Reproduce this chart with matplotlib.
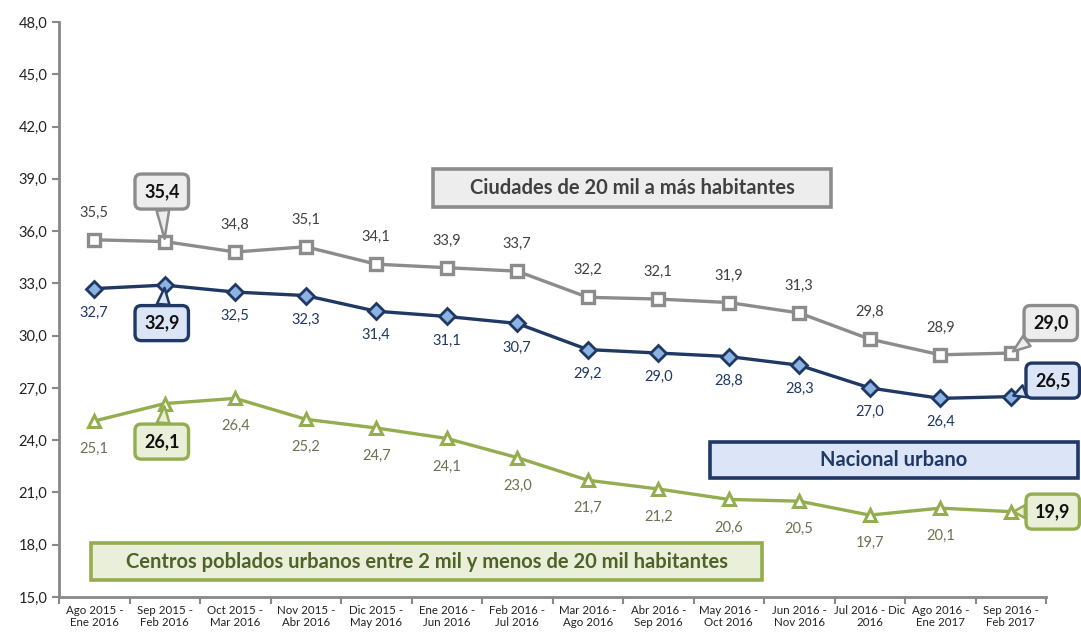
import matplotlib.pyplot as plt
from matplotlib.patches import Rectangle
import numpy as np

plt.rcParams['font.family'] = ['Lato', 'DejaVu Sans']

# ── data ────────────────────────────────────────────
periodos = ['Ago 2015 -\nEne 2016', 'Sep 2015 -\nFeb 2016', 'Oct 2015 -\nMar 2016',
            'Nov 2015 -\nAbr 2016', 'Dic 2015 -\nMay 2016', 'Ene 2016 -\nJun 2016',
            'Feb 2016 -\nJul 2016', 'Mar 2016 -\nAgo 2016', 'Abr 2016 -\nSep 2016',
            'May 2016 -\nOct 2016', 'Jun 2016 -\nNov 2016', 'Jul 2016 - Dic\n2016',
            'Ago 2016 -\nEne 2017', 'Sep 2016 -\nFeb 2017']
ciudades = [35.5, 35.4, 34.8, 35.1, 34.1, 33.9, 33.7, 32.2, 32.1, 31.9, 31.3, 29.8, 28.9, 29.0]
nacional = [32.7, 32.9, 32.5, 32.3, 31.4, 31.1, 30.7, 29.2, 29.0, 28.8, 28.3, 27.0, 26.4, 26.5]
centros = [25.1, 26.1, 26.4, 25.2, 24.7, 24.1, 23.0, 21.7, 21.2, 20.6, 20.5, 19.7, 20.1, 19.9]
y_ticks = [15, 18, 21, 24, 27, 30, 33, 36, 39, 42, 45, 48]

GRAY, GRAY_FILL = '#8c8c8c', '#ededed'
NAVY, BLUE_FILL, BLUE_MK = '#1f3864', '#dbe5f7', '#8db3e2'
GREEN, GREEN_FILL = '#93ad4f', '#eaefd9'

W, H = 1081, 634

def fmt(v):
    return f'{v:.1f}'.replace('.', ',')

fig = plt.figure(figsize=(W / 100, H / 100), dpi=100)
ax = fig.add_axes([59 / W, 1 - 597 / H, 987 / W, 575 / H])
x = np.arange(len(periodos))

ax.plot(x, ciudades, color=GRAY, lw=2.4, marker='s', ms=8, mfc='white', mec=GRAY, mew=2.4, zorder=3)
ax.plot(x, nacional, color=NAVY, lw=2.4, marker='D', ms=8, mfc=BLUE_MK, mec=NAVY, mew=2, zorder=3)
ax.plot(x, centros, color=GREEN, lw=2.4, marker='^', ms=8.5, mfc='white', mec=GREEN, mew=2.2, zorder=3)

# plain value labels (index 1 and the last one go in callouts)
for i in x:
    if i in (1, len(x) - 1):
        continue
    ax.annotate(fmt(ciudades[i]), (i, ciudades[i]), xytext=(0, 27), textcoords='offset pixels',
                ha='center', va='center', fontsize=10.5, color='#404040')
    ax.annotate(fmt(nacional[i]), (i, nacional[i]), xytext=(0, -24), textcoords='offset pixels',
                ha='center', va='center', fontsize=10.5, color=NAVY)
    ax.annotate(fmt(centros[i]), (i, centros[i]), xytext=(0, -28), textcoords='offset pixels',
                ha='center', va='center', fontsize=10.5, color='#6f6f55')

# callouts
def callout(i, val, dx, dy, edge, fill):
    ax.annotate(fmt(val), (i, val), xytext=(dx, dy), textcoords='offset pixels',
                ha='center', va='center', fontsize=13, fontweight='bold', color='#111111',
                bbox=dict(boxstyle='round,pad=0.5,rounding_size=0.35', fc=fill, ec=edge, lw=2.4),
                arrowprops=dict(arrowstyle='wedge,tail_width=0.7,shrink_factor=0.5',
                                fc=fill, ec=edge, lw=1.8, shrinkA=0, shrinkB=2),
                zorder=5)

last = len(x) - 1
callout(1, ciudades[1], -3, 50, GRAY, GRAY_FILL)
callout(1, nacional[1], -3, -38, NAVY, BLUE_FILL)
callout(1, centros[1], -3, -38, GREEN, GREEN_FILL)
callout(last, ciudades[last], 40, 30, GRAY, GRAY_FILL)
callout(last, nacional[last], 42, 16, NAVY, BLUE_FILL)
callout(last, centros[last], 42, 0, GREEN, GREEN_FILL)

# series name boxes, placed in figure pixels (left, top, right, bottom)
def name_box(text, box, edge, fill, color):
    l, t, r, b = box
    fig.add_artist(Rectangle((l / W, 1 - b / H), (r - l) / W, (b - t) / H,
                             transform=fig.transFigure, fc=fill, ec=edge, lw=2.6, zorder=4))
    fig.text((l + r) / 2 / W, 1 - (t + b) / 2 / H, text, ha='center', va='center',
             fontsize=14.5, fontweight='bold', color=color, zorder=6)

name_box('Ciudades de 20 mil a más habitantes', (433, 169, 831, 207), GRAY, GRAY_FILL, '#404040')
name_box('Nacional urbano', (710, 442, 1078, 478), NAVY, BLUE_FILL, NAVY)
name_box('Centros poblados urbanos entre 2 mil y menos de 20 mil habitantes',
         (91, 543, 762, 580), GREEN, GREEN_FILL, '#4f6228')

# axes styling
ax.set_xlim(-0.5, len(x) - 0.5)
ax.set_ylim(15, 48)
ax.set_yticks(y_ticks)
ax.set_yticklabels([fmt(v) for v in y_ticks], fontsize=10.5, color='#222222')
ax.set_xticks(x)
ax.set_xticklabels(periodos, fontsize=8.3, color='#222222', linespacing=1.1)
ax.set_xticks(np.arange(-0.5, len(x)), minor=True)
ax.tick_params(axis='x', which='major', length=0, pad=6)
ax.tick_params(axis='x', which='minor', length=5, width=1.5, color='#888888', direction='out')
ax.tick_params(axis='y', length=5, width=1.5, color='#888888', direction='out')
for s in ('top', 'right'):
    ax.spines[s].set_visible(False)
for s in ('left', 'bottom'):
    ax.spines[s].set_color('#888888')
    ax.spines[s].set_linewidth(2)

fig.savefig('out.png', dpi=100)
